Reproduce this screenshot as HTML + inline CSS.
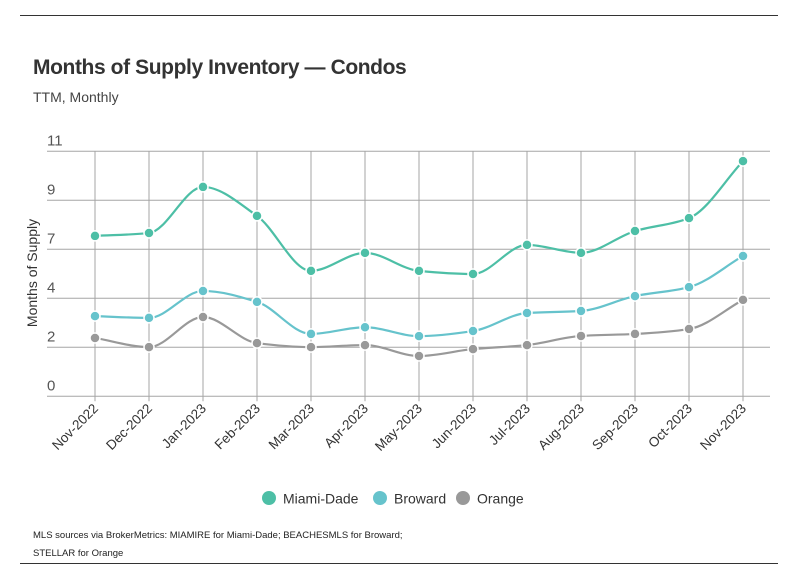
<!DOCTYPE html>
<html><head><meta charset="utf-8"><style>
body{margin:0;background:#fff;font-family:"Liberation Sans",sans-serif;}
#wrap{position:relative;width:798px;height:575px;overflow:hidden;}
.hr{position:absolute;left:20px;width:758px;height:1px;background:#333;}
</style></head><body>
<div id="wrap">
<div class="hr" style="top:15px"></div>
<div style="position:absolute;left:33px;top:56px;font-size:21px;font-weight:bold;color:#333;letter-spacing:-0.4px">Months of Supply Inventory — Condos</div>
<div style="position:absolute;left:33px;top:89px;font-size:14px;color:#444">TTM, Monthly</div>
<svg id="chart" width="798" height="575" style="position:absolute;left:0;top:0"></svg>
<div style="position:absolute;left:33px;top:527px;font-size:9.5px;color:#222;line-height:18px">MLS sources via BrokerMetrics: MIAMIRE for Miami-Dade; BEACHESMLS for Broward;<br>STELLAR for Orange</div>
<div class="hr" style="top:563px"></div>
</div>
<script>
const categories=["Nov-2022","Dec-2022","Jan-2023","Feb-2023","Mar-2023","Apr-2023","May-2023","Jun-2023","Jul-2023","Aug-2023","Sep-2023","Oct-2023","Nov-2023"];
const miamiDade=[7.2,7.33,9.4,8.1,5.63,6.44,5.63,5.49,6.8,6.44,7.42,8.0,10.56];
const broward=[3.6,3.52,4.73,4.24,2.8,3.1,2.7,2.93,3.74,3.83,4.5,4.9,6.3];
const orange=[2.62,2.21,3.56,2.39,2.21,2.3,1.81,2.12,2.3,2.71,2.8,3.02,4.33];
const tickValues=[0,2.2,4.4,6.6,8.8,11];
const tickLabels=["0","2","4","7","9","11"];
const seriesNames=["Miami-Dade","Broward","Orange"];
const seriesColors=["#4dbfa6","#66c3cc","#999999"];

const NS="http://www.w3.org/2000/svg";
const svg=document.getElementById('chart');
const x0=95,dx=54,yBase=396.3,yTop=151.3,yMax=11;
const xs=i=>x0+i*dx;
const ys=v=>yBase-v/yMax*(yBase-yTop);
function mk(t,a){const e=document.createElementNS(NS,t);for(const k in a)e.setAttribute(k,a[k]);svg.appendChild(e);return e;}
tickValues.forEach((v,i)=>{
  const l=mk('line',{x1:47,x2:770,y1:ys(v),y2:ys(v),stroke:'#a5a5a5','stroke-width':1});
  
  
  const t=mk('text',{x:47,y:ys(v)-6,'font-size':15,fill:'#555'});
  t.textContent=tickLabels[i];
  
  
});
categories.forEach((c,i)=>{
  const l=mk('line',{x1:xs(i),x2:xs(i),y1:yTop,y2:yBase+5,stroke:'#a5a5a5','stroke-width':1});
  
  
  const t=mk('text',{x:xs(i)+4,y:yBase+13,'font-size':13.5,fill:'#333','text-anchor':'end',transform:`rotate(-45 ${xs(i)+4} ${yBase+13})`});
  t.textContent=c;
  
  
});
const yt=mk('text',{x:0,y:0,'font-size':14,fill:'#333','text-anchor':'middle',transform:'translate(37 273) rotate(-90)'});
yt.textContent='Months of Supply';



function monotone(pts){
  const n=pts.length,d=[],m=[];
  for(let i=0;i<n-1;i++)d.push((pts[i+1][1]-pts[i][1])/(pts[i+1][0]-pts[i][0]));
  m[0]=d[0];m[n-1]=d[n-2];
  for(let i=1;i<n-1;i++)m[i]=(d[i-1]*d[i]<=0)?0:(2/(1/d[i-1]+1/d[i]));
  let p=`M${pts[0][0]},${pts[0][1]}`;
  for(let i=0;i<n-1;i++){const h=(pts[i+1][0]-pts[i][0])/3;
    p+=`C${pts[i][0]+h},${pts[i][1]+m[i]*h} ${pts[i+1][0]-h},${pts[i+1][1]-m[i+1]*h} ${pts[i+1][0]},${pts[i+1][1]}`;}
  return p;
}
[orange,broward,miamiDade].forEach((arr,k)=>{
  const si=2-k,col=seriesColors[si];
  const pts=arr.map((v,i)=>[xs(i),ys(v)]);
  const path=mk('path',{d:monotone(pts),fill:'none',stroke:col,'stroke-width':2.2});
  
  
  pts.forEach(p=>{
    const c=mk('circle',{cx:p[0],cy:p[1],r:5,fill:col,stroke:'#fff','stroke-width':1.5});
    
    
  });
});
const legX=[269,380,463];
seriesNames.forEach((s,i)=>{
  const c=mk('circle',{cx:legX[i],cy:498,r:7,fill:seriesColors[i]});
  
  
  const t=mk('text',{x:legX[i]+14,y:503.5,'font-size':14,fill:'#333'});
  t.textContent=s;
  
  
});
</script>
</body></html>
